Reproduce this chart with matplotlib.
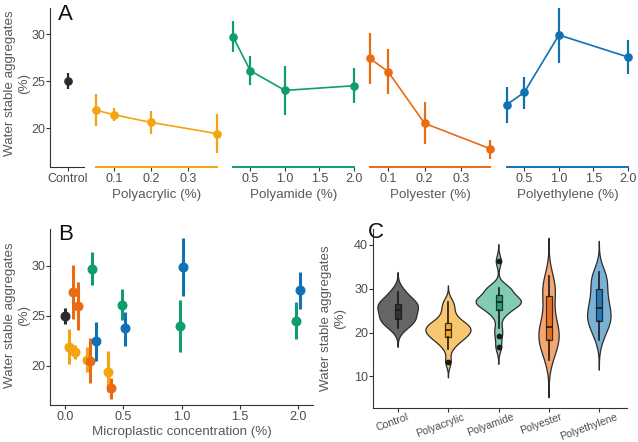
import numpy as np
import matplotlib
matplotlib.use("Agg")
import matplotlib.pyplot as plt
from matplotlib.ticker import FormatStrFormatter
from matplotlib.transforms import blended_transform_factory, offset_copy

plt.rcParams['font.family'] = ['Liberation Sans', 'DejaVu Sans']

# ---- datos: medias y barras de error (paneles A y B) ----
control_mean = 25.0
control_lo = 24.15
control_hi = 25.8

conc_low = [0.05, 0.1, 0.2, 0.38]     # polyacrylic, polyester
conc_high = [0.25, 0.5, 1.0, 2.0]     # polyamide, polyethylene

polyacrylic_mean = [21.9, 21.4, 20.6, 19.4]
polyacrylic_lo = [20.2, 20.7, 19.4, 17.35]
polyacrylic_hi = [23.65, 22.1, 21.85, 21.5]

polyamide_mean = [29.7, 26.1, 24.0, 24.5]
polyamide_lo = [28.1, 24.55, 21.4, 22.65]
polyamide_hi = [31.35, 27.7, 26.6, 26.4]

polyester_mean = [27.4, 26.0, 20.5, 17.8]
polyester_lo = [24.7, 23.6, 18.3, 16.7]
polyester_hi = [30.1, 28.4, 22.8, 18.75]

polyethylene_mean = [22.5, 23.8, 29.9, 27.55]
polyethylene_lo = [20.5, 22.0, 26.95, 25.7]
polyethylene_hi = [24.4, 25.4, 32.8, 29.35]

# ---- datos: observaciones (panel C) ----
groups = ["Control", "Polyacrylic", "Polyamide", "Polyester", "Polyethylene"]
obs_control = [21.0, 22.4, 22.9, 23.5, 24.8, 25.6, 26.2, 26.6, 27.6, 29.3]
obs_polyacrylic = [13.3, 16.3, 17.6, 18.2, 18.7, 19.0, 19.5, 19.9, 20.2, 20.5,
                   20.7, 21.0, 21.4, 21.8, 22.1, 22.5, 23.4, 24.6, 25.9, 27.0]
obs_polyamide = [16.6, 19.2, 21.0, 23.8, 24.8, 25.1, 26.0, 26.5, 26.7, 26.8,
                 27.0, 27.2, 27.4, 27.6, 28.1, 29.7, 29.8, 29.9, 30.1, 36.2]
obs_polyester = [13.8, 15.0, 16.3, 17.2, 18.0, 18.4, 19.0, 19.6, 20.2, 20.8,
                 21.6, 22.5, 24.0, 25.5, 28.2, 28.5, 29.5, 30.6, 31.7, 32.8]
obs_polyethylene = [18.3, 19.8, 21.0, 21.8, 22.4, 22.8, 23.3, 23.9, 24.5, 25.2,
                    26.0, 26.8, 27.6, 28.4, 29.6, 30.8, 31.6, 32.4, 33.2, 33.9]

# colores
c_control = '#2b2b2b'
c_acryl = '#F5A30F'
c_amide = '#0F9D70'
c_ester = '#EB6A14'
c_ethyl = '#1171B5'

tick_col = '#4d4d4d'
title_col = '#595959'
W, H = 638, 442

fig = plt.figure(figsize=(W / 100, H / 100), dpi=100)


def px_axes(left, top, right, bottom):
    return fig.add_axes([left / W, 1 - bottom / H, (right - left) / W, (bottom - top) / H])


def style_ticks(ax):
    ax.tick_params(colors='#333333', labelcolor=tick_col, labelsize=9, length=3, width=0.8)
    ax.tick_params(axis='x', pad=1.5)
    ax.tick_params(axis='y', pad=0.5)


def ylabel_text(x, y):
    fig.text(x / W, 1 - y / H, 'Water stable aggregates\n(%)', rotation=90, ha='center',
             va='center', fontsize=9.6, color=title_col, linespacing=1.2)


# ================= Panel A =================
ylimA = (15.85, 32.77)
top_A, bot_A = 8, 167

ax = px_axes(50, top_A, 84, bot_A)
ax.set_xlim(-1, 0.9)
ax.set_ylim(*ylimA)
ax.vlines([0], [control_lo], [control_hi], color=c_control, lw=1.6, clip_on=False)
ax.plot([0], [control_mean], 'o', color=c_control, ms=5.2, clip_on=False)
for s in ['top', 'right']:
    ax.spines[s].set_visible(False)
for s in ['left', 'bottom']:
    ax.spines[s].set_color('#333333')
    ax.spines[s].set_linewidth(0.8)
ax.set_xticks([0])
ax.set_xticklabels(['Control'])
ax.set_yticks([20, 25, 30])
style_ticks(ax)
ax.patch.set_alpha(0)

panelsA = [
    (90, 224, (0.0338, 0.399), conc_low, polyacrylic_mean, polyacrylic_lo, polyacrylic_hi,
     c_acryl, [0.1, 0.2, 0.3], 'Polyacrylic (%)'),
    (227, 361, (0.163, 2.10), conc_high, polyamide_mean, polyamide_lo, polyamide_hi,
     c_amide, [0.5, 1.0, 1.5, 2.0], 'Polyamide (%)'),
    (364, 497, (0.0338, 0.399), conc_low, polyester_mean, polyester_lo, polyester_hi,
     c_ester, [0.1, 0.2, 0.3], 'Polyester (%)'),
    (501, 635, (0.163, 2.10), conc_high, polyethylene_mean, polyethylene_lo, polyethylene_hi,
     c_ethyl, [0.5, 1.0, 1.5, 2.0], 'Polyethylene (%)'),
]
for left, right, xl, xs, m, lo, hi, col, xt, lab in panelsA:
    a = px_axes(left, top_A, right, bot_A)
    a.set_xlim(*xl)
    a.set_ylim(*ylimA)
    a.vlines(xs, lo, hi, color=col, lw=1.6, clip_on=False)
    a.plot(xs, m, '-o', color=col, lw=1.2, ms=5.2, clip_on=False)
    for s in ['top', 'right', 'left']:
        a.spines[s].set_visible(False)
    a.spines['bottom'].set_color(col)
    a.spines['bottom'].set_linewidth(1.4)
    a.spines['bottom'].set_bounds(xs[0], xs[-1])
    a.set_yticks([])
    a.set_xticks(xt)
    a.xaxis.set_major_formatter(FormatStrFormatter('%.1f'))
    style_ticks(a)
    a.set_xlabel(lab, fontsize=9.6, color=title_col, labelpad=3)
    a.patch.set_alpha(0)

ylabel_text(17, 83)
fig.text(58 / W, 1 - 4 / H, 'A', fontsize=16, va='top', ha='left', color='#111111')

# ================= Panel B =================
dodge = 0.015
axB = px_axes(50, 229, 313, 405)
axB.set_xlim(-0.129, 2.129)
axB.set_ylim(16.05, 33.7)
series_B = [
    (np.array(conc_low) - dodge, polyacrylic_mean, polyacrylic_lo, polyacrylic_hi, c_acryl),
    (np.array(conc_low) + dodge, polyester_mean, polyester_lo, polyester_hi, c_ester),
    (np.array(conc_high) - dodge, polyamide_mean, polyamide_lo, polyamide_hi, c_amide),
    (np.array(conc_high) + dodge, polyethylene_mean, polyethylene_lo, polyethylene_hi, c_ethyl),
    (np.array([0.0]), [control_mean], [control_lo], [control_hi], c_control),
]
for xs, m, lo, hi, col in series_B:
    axB.vlines(xs, lo, hi, color=col, lw=2.2, clip_on=False)
    axB.plot(xs, m, 'o', color=col, ms=6.2, clip_on=False)
for s in ['top', 'right']:
    axB.spines[s].set_visible(False)
for s in ['left', 'bottom']:
    axB.spines[s].set_color('#333333')
    axB.spines[s].set_linewidth(0.8)
axB.set_xticks([0, 0.5, 1.0, 1.5, 2.0])
axB.xaxis.set_major_formatter(FormatStrFormatter('%.1f'))
axB.set_yticks([20, 25, 30])
style_ticks(axB)
axB.set_xlabel('Microplastic concentration (%)', fontsize=9.6, color=title_col, labelpad=2)
ylabel_text(17, 315)
fig.text(58 / W, 1 - 224 / H, 'B', fontsize=16, va='top', ha='left', color='#111111')

# ================= Panel C =================
axC = px_axes(373, 229, 627, 408)
axC.set_xlim(0.5, 5.55)
axC.set_ylim(2.8, 43.6)

obs_all = [obs_control, obs_polyacrylic, obs_polyamide, obs_polyester, obs_polyethylene]
cols_C = [c_control, c_acryl, c_amide, c_ester, c_ethyl]
violin_alpha = [0.72, 0.6, 0.52, 0.6, 0.55]


def kde(vals):
    v = np.asarray(vals)
    n = len(v)
    q75, q25 = np.percentile(v, [75, 25])
    bw = 0.9 * min(v.std(ddof=1), (q75 - q25) / 1.34) * n ** -0.2
    y = np.linspace(v.min() - 3 * bw, v.max() + 3 * bw, 512)
    d = np.exp(-0.5 * ((y[:, None] - v[None, :]) / bw) ** 2).sum(axis=1) / (n * bw * np.sqrt(2 * np.pi))
    return y, d


dens = [kde(v) for v in obs_all]
dmax = max(d.max() for _, d in dens)
for i, ((y, d), col) in enumerate(zip(dens, cols_C)):
    pos = i + 1
    w = 0.45 * d / dmax
    axC.fill_betweenx(y, pos - w, pos + w, facecolor=col, alpha=violin_alpha[i], lw=0)
    axC.fill_betweenx(y, pos - w, pos + w, facecolor='none', edgecolor='#2b2b2b', lw=0.9)

bp = axC.boxplot(obs_all, positions=range(1, 6), widths=0.12, patch_artist=True, whis=1.5,
                 showcaps=False, manage_ticks=False,
                 medianprops=dict(color='#1a1a1a', lw=1.2),
                 whiskerprops=dict(color='#1a1a1a', lw=1.2),
                 boxprops=dict(edgecolor='#1a1a1a', lw=0.9),
                 flierprops=dict(marker='o', markerfacecolor='#1a1a1a', markeredgecolor='none',
                                 markersize=4.2))
for patch, col in zip(bp['boxes'], cols_C):
    patch.set_facecolor(col)
    patch.set_alpha(0.85)

for s in ['top', 'right']:
    axC.spines[s].set_visible(False)
for s in ['left', 'bottom']:
    axC.spines[s].set_color('#333333')
    axC.spines[s].set_linewidth(0.8)
axC.set_yticks([10, 20, 30, 40])
axC.set_xticks(range(1, 6))
axC.set_xticklabels([])
style_ticks(axC)

# etiquetas giradas 20 grados, desplazadas como en ggplot
trans = blended_transform_factory(axC.transData, axC.transAxes)
labs = []
for i, g in enumerate(groups):
    t = axC.text(i + 1, 0, g, rotation=20, ha='center', va='top', fontsize=7.6, color=tick_col,
                 transform=offset_copy(trans, fig=fig, x=0, y=-4, units='dots'), clip_on=False)
    labs.append(t)
fig.canvas.draw()
rend = fig.canvas.get_renderer()
for t in labs:
    wt = t.get_window_extent(rend).width
    t.set_transform(offset_copy(trans, fig=fig, x=-0.17 * wt, y=-4, units='dots'))

ylabel_text(333, 318)
fig.text(368 / W, 1 - 222 / H, 'C', fontsize=16, va='top', ha='left', color='#111111')

fig.savefig('out.png', dpi=100)
